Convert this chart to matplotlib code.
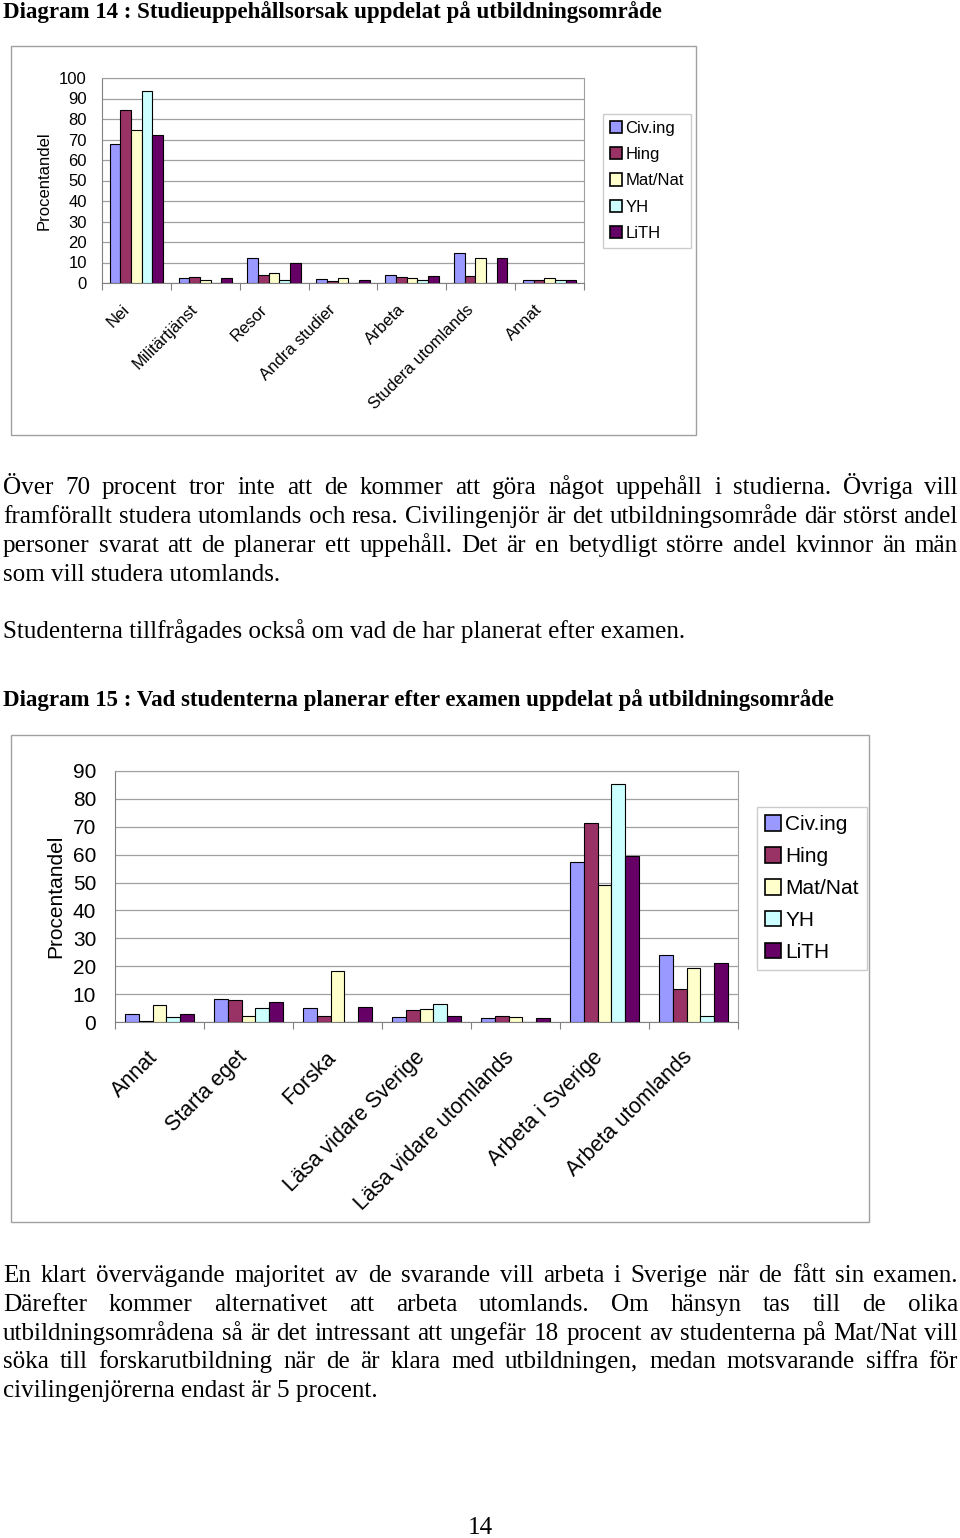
import matplotlib
matplotlib.use('Agg')
import matplotlib.pyplot as plt
import matplotlib.transforms as mtrans
import numpy as np
from matplotlib.patches import Rectangle, Patch

# ---- data ----
series = ['Civ.ing', 'Hing', 'Mat/Nat', 'YH', 'LiTH']
colors = ['#9999FF', '#993366', '#FFFFCC', '#CCFFFF', '#660066']

cats14 = ['Nei', 'Militärtjänst', 'Resor', 'Andra studier', 'Arbeta',
          'Studera utomlands', 'Annat']
civ14 = [68, 2.5, 12, 2, 4, 14.5, 1.5]
hing14 = [84.5, 3, 4, 1, 3, 3.5, 1.5]
mat14 = [74.5, 1.5, 5, 2.5, 2.5, 12, 2.5]
yh14 = [93.5, 0, 1.5, 0, 1.5, 0, 1.5]
lith14 = [72, 2.5, 10, 1.5, 3.5, 12, 1.5]

cats15 = ['Annat', 'Starta eget', 'Forska', 'Läsa vidare Sverige',
          'Läsa vidare utomlands', 'Arbeta i Sverige', 'Arbeta utomlands']
civ15 = [2.7, 8.2, 5, 1.8, 1.3, 57.3, 24.2]
hing15 = [0.5, 7.8, 2.3, 4.2, 2.3, 71.4, 12]
mat15 = [6, 2, 18.3, 4.7, 1.9, 49, 19.2]
yh15 = [1.9, 5, 0, 6.3, 0, 85.5, 2]
lith15 = [2.7, 7.3, 5.5, 2.3, 1.4, 59.5, 21.1]

title14 = 'Diagram 14 : Studieuppehållsorsak uppdelat på utbildningsområde'
title15 = 'Diagram 15 : Vad studenterna planerar efter examen uppdelat på utbildningsområde'

para1 = ['Över 70 procent tror inte att de kommer att göra något uppehåll i studierna. Övriga vill',
         'framförallt studera utomlands och resa. Civilingenjör är det utbildningsområde där störst andel',
         'personer svarat att de planerar ett uppehåll. Det är en betydligt större andel kvinnor än män',
         'som vill studera utomlands.']
para2 = ['Studenterna tillfrågades också om vad de har planerat efter examen.']
para3 = ['En klart övervägande majoritet av de svarande vill arbeta i Sverige när de fått sin examen.',
         'Därefter kommer alternativet att arbeta utomlands. Om hänsyn tas till de olika',
         'utbildningsområdena så är det intressant att ungefär 18 procent av studenterna på Mat/Nat vill',
         'söka till forskarutbildning när de är klara med utbildningen, medan motsvarande siffra för',
         'civilingenjörerna endast är 5 procent.']

W, H = 960, 1538
fig = plt.figure(figsize=(W / 100, H / 100), dpi=100)
plt.rcParams['font.family'] = ['Liberation Sans', 'DejaVu Sans']
serif = ['Liberation Serif', 'DejaVu Serif']


def fx(x):
    return x / W


def fy(y):
    return 1 - y / H


def box(x0, y0, x1, y1):
    fig.patches.append(Rectangle((fx(x0), fy(y1)), fx(x1 - x0), (y1 - y0) / H,
                                 transform=fig.transFigure, fill=False,
                                 edgecolor='#a0a0a0', lw=1.0))


def chart(rect, cats, data, ymax, fs, xfs, lbl_x, dx, dy, leg_rect, leg_fs, leg_gap):
    x0, y0, x1, y1 = rect
    ax = fig.add_axes([fx(x0), fy(y1), fx(x1 - x0), (y1 - y0) / H])
    n = len(cats)
    idx = np.arange(n)
    bw = 0.155
    for k, vals in enumerate(data):
        ax.bar(idx + (k - 2) * bw, vals, bw, color=colors[k], edgecolor='black',
               lw=0.8, label=series[k], zorder=3)
    ax.set_xlim(-0.5, n - 0.5)
    ax.set_ylim(0, ymax)
    ax.set_yticks(np.arange(0, ymax + 1, 10))
    ax.yaxis.grid(True, color='#a0a0a0', lw=0.9, zorder=0)
    ax.set_xticks(np.arange(-0.5, n, 1))
    ax.set_xticklabels([])
    ax.tick_params(axis='x', length=5, color='#808080')
    # category labels, rotated, right end near the category centre
    trans = mtrans.blended_transform_factory(ax.transData, ax.transAxes) + \
        mtrans.ScaledTranslation(-dx / 100, -dy / 100, fig.dpi_scale_trans)
    for i, c in enumerate(cats):
        ax.text(i, 0, c, transform=trans, rotation=45, ha='right', va='top',
                rotation_mode='anchor', fontsize=xfs)
    ax.tick_params(axis='y', labelsize=fs, length=0, pad=fs * 0.9)
    for s in ax.spines.values():
        s.set_color('#a0a0a0')
    ax.spines['left'].set_color('#808080')
    ax.spines['bottom'].set_color('#808080')
    ax.set_ylabel('Procentandel', fontsize=fs)
    ax.yaxis.set_label_coords(lbl_x, 0.5)
    lx, ly = leg_rect
    fig.legend(handles=[Patch(facecolor=colors[k], edgecolor='black', lw=1.2,
                              label=series[k]) for k in range(5)],
               loc='upper left', bbox_to_anchor=(fx(lx), fy(ly)),
               fontsize=leg_fs, frameon=True, fancybox=False, edgecolor='#c0c0c0',
               handlelength=0.75, handleheight=0.75, handletextpad=0.2,
               labelspacing=leg_gap, borderpad=0.4, borderaxespad=0)
    return ax


# chart 14
box(11, 46, 696, 435)
chart((102, 78, 584, 283), cats14, [civ14, hing14, mat14, yh14, lith14], 100,
      12, 12, -0.105, 15, 19, (603, 114), 12, 0.68)

# chart 15
box(11, 735, 869, 1222)
chart((115, 771, 738, 1022), cats15, [civ15, hing15, mat15, yh15, lith15], 90,
      15, 15.5, -0.08, 12, 25, (757, 807), 15, 0.62)

fig.canvas.draw()
renderer = fig.canvas.get_renderer()


def width_px(s, size, weight='normal'):
    t = fig.text(0, 0, s, fontsize=size, family=serif, fontweight=weight)
    w = t.get_window_extent(renderer).width
    t.remove()
    return w


def fit_size(lines, target):
    return min(10 * target / width_px(l, 10) for l in lines)


def justified(lines, baselines, size, left=3, right=958):
    for i, (line, yb) in enumerate(zip(lines, baselines)):
        words = line.split(' ')
        ws = [width_px(w, size) for w in words]
        last = i == len(lines) - 1
        if last or len(words) == 1:
            fig.text(fx(left), fy(yb), line, fontsize=size, family=serif,
                     va='baseline', ha='left')
            continue
        gap = (right - left - sum(ws)) / (len(words) - 1)
        x = left
        for w, wd in zip(words, ws):
            fig.text(fx(x), fy(yb), w, fontsize=size, family=serif,
                     va='baseline', ha='left')
            x += wd + gap


body = fit_size([para1[1], para3[0], para3[2], para3[3]], 952)
justified(para1, [494, 523, 552, 581], body)
justified(para2, [638], body)
justified(para3, [1282, 1311, 1340, 1368, 1397], body)

hs = 10 * 662 / width_px(title14, 10, 'bold')
fig.text(fx(3), fy(18), title14, fontsize=hs, family=serif, fontweight='bold',
         va='baseline')
fig.text(fx(3), fy(706), title15, fontsize=hs, family=serif, fontweight='bold',
         va='baseline')
fig.text(fx(480), fy(1534), '14', fontsize=body, family=serif, ha='center',
         va='baseline')

fig.savefig('out.png', dpi=100, facecolor='white')
